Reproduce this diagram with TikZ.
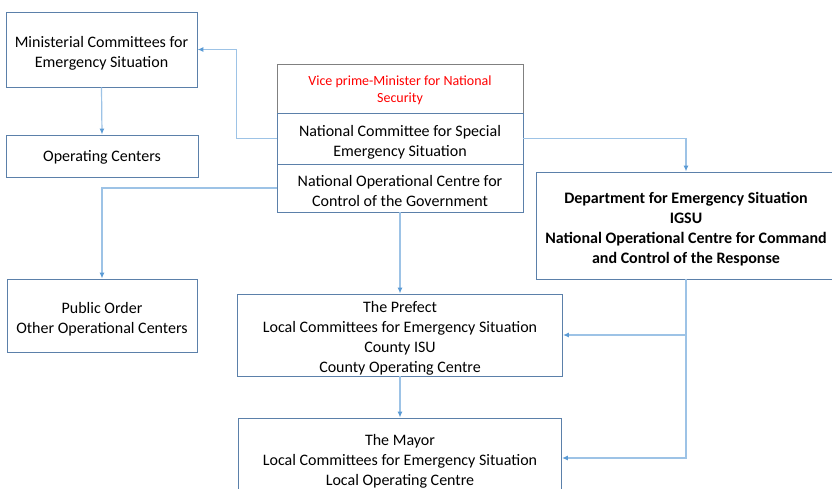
\documentclass[tikz,border=0pt]{standalone}
\usepackage{fontspec}
\setmainfont{Carlito}
\usetikzlibrary{arrows.meta}
\definecolor{boxblue}{RGB}{91,128,170}
\definecolor{lineblue}{RGB}{157,195,230}
\definecolor{tipblue}{RGB}{91,155,213}
\definecolor{viceborder}{RGB}{128,128,128}
\definecolor{vicered}{RGB}{255,0,0}
\newcommand{\fstrut}[1][18pt]{\rule{0pt}{#1}}
\tikzset{
  box/.style={draw=boxblue, line width=0.9pt, fill=white, align=center, inner sep=0pt,
    font=\fontsize{16}{20}\selectfont},
  link/.style={draw=lineblue, line width=1.2pt, -{Latex[length=6pt,width=5pt,color=tipblue]}},
}

\begin{document}
\begin{tikzpicture}[x=1pt,y=-1pt]
  \clip (0,0) rectangle (832,488);
  \fill[white] (0,0) rectangle (832,488);

  % left column
  \node[box, minimum width=191pt, minimum height=75pt] (minist) at (101.5,49.5) {\fstrut Ministerial Committees for\\ Emergency Situation};
  \node[box, minimum width=192pt, minimum height=42pt] (opcent) at (102,156) {\fstrut[14pt]Operating Centers};
  \node[box, minimum width=190pt, minimum height=73pt] (public) at (102,315.5) {\fstrut Public Order\\ Other Operational Centers};

  % central stack
  \node[box, draw=viceborder, text=vicered, minimum width=246pt, minimum height=49pt,
    font=\fontsize{14}{17}\selectfont] (vice) at (400,88.5) {\fstrut[14pt]Vice prime-Minister for National\\ Security};
  \node[box, minimum width=246pt, minimum height=51pt] (ncse) at (400,138.5) {\fstrut National Committee for Special\\ Emergency Situation};
  \node[box, minimum width=246pt, minimum height=48pt] (nocg) at (400,188) {\fstrut National Operational Centre for\\ Control of the Government};
  \node[box, minimum width=325pt, minimum height=82pt] (prefect) at (400,335) {\fstrut The Prefect\\ Local Committees for Emergency Situation\\ County ISU\\ County Operating Centre};
  \node[box, minimum width=323pt, minimum height=80pt] (mayor) at (400,458) {\fstrut The Mayor\\ Local Committees for Emergency Situation\\ Local Operating Centre};

  % right
  \node[box, minimum width=300pt, minimum height=107pt, font=\fontsize{16}{20}\selectfont\bfseries] (dept) at (686,225.5) {\fstrut Department for Emergency Situation\\ IGSU\\ National Operational Centre for Command\\ and Control of the Response};

  \draw[link] (ncse.west) -- ++(-40,0) |- (minist.east);
  \draw[link] (minist.south) -- (opcent.north);
  \draw[link] (nocg.west) -| (public.north);
  \draw[link] (ncse.east) -| (dept.north);
  \draw[link] (nocg.south) -- (prefect.north);
  \draw[link] (prefect.south) -- (mayor.north);
  \draw[link] (dept.south) |- (prefect.east);
  \draw[link] (dept.south) |- (mayor.east);
\end{tikzpicture}
\end{document}
